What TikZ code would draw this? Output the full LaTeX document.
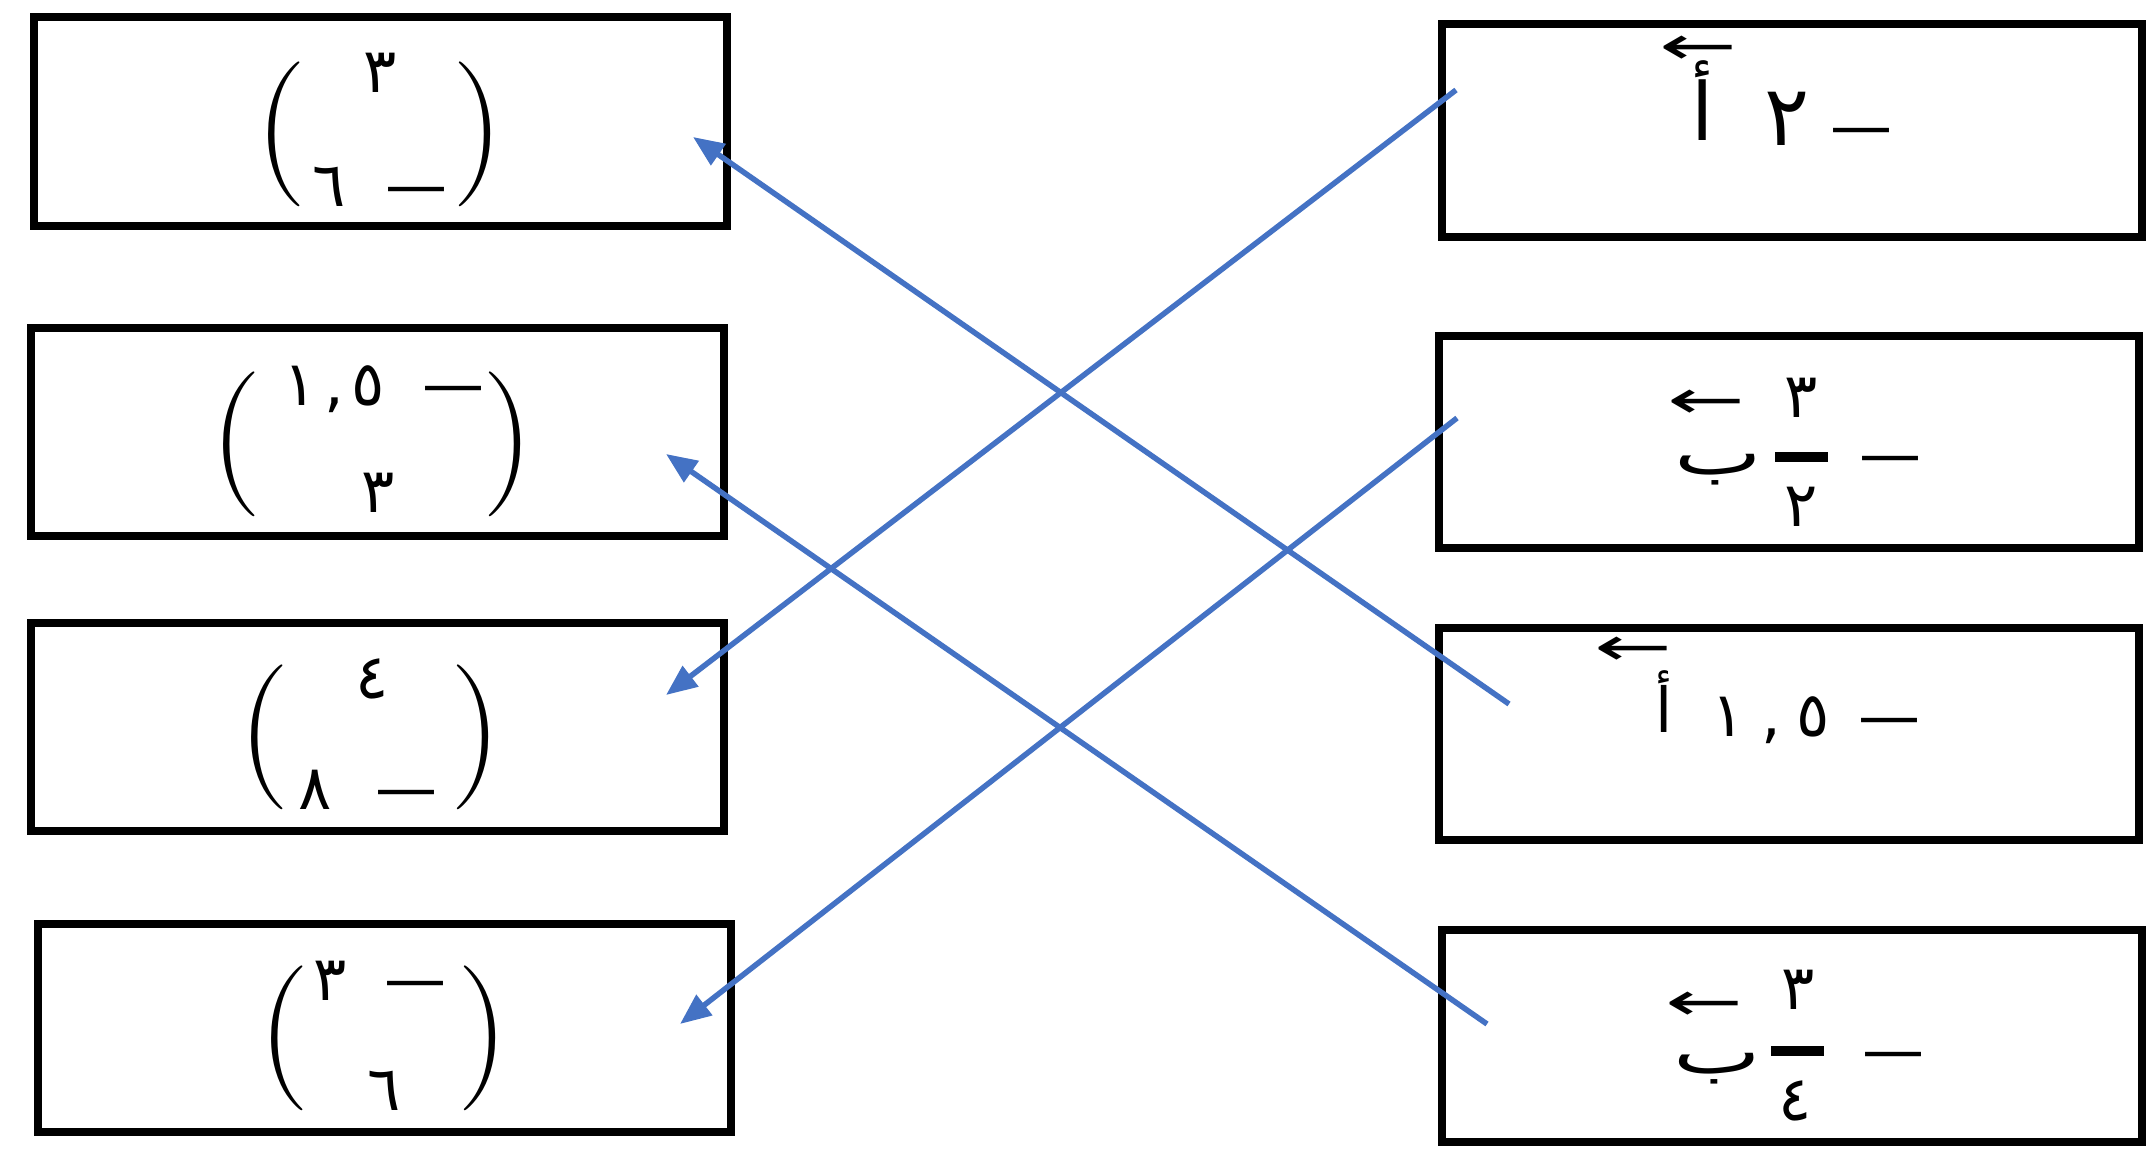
\documentclass[tikz,border=0pt]{standalone}
\usepackage{fontspec}
\usetikzlibrary{arrows.meta}
\TeXXeTstate=1
\newfontfamily\arabicfont[Script=Arabic]{DejaVu Sans}
\newfontfamily\arrowfont{DejaVu Sans}
\definecolor{arrowblue}{HTML}{4472C4}
\newcommand\larr{\scalebox{1.55}[0.9]{←}}
\begin{document}
\begin{tikzpicture}[x=1pt,y=1pt,
  box/.style={draw=black,line width=8pt,inner sep=0pt,outer sep=0pt},
  lbox/.style={box,minimum width=693pt,minimum height=208pt},
  rbox/.style={box,minimum width=700pt,minimum height=212pt},
  ar/.style={inner sep=0pt,anchor=base,font=\arabicfont\fontsize{62}{72}\selectfont},
  arbig/.style={ar,font=\arabicfont\fontsize{84}{96}\selectfont},
  paren/.style={inner sep=0pt,anchor=center,font=\fontsize{145}{145}\selectfont},
  vecarrow/.style={inner sep=0pt,anchor=center,font=\arrowfont\fontsize{60}{60}\selectfont},
  link/.style={draw=arrowblue,line width=5.5pt,-{Triangle[length=31pt,width=25pt]}},
  fbar/.style={fill=black}
]
\fill[white] (0,0) rectangle (2151,-1153);
\useasboundingbox (0,0) rectangle (2151,-1153);

% left boxes
\node[lbox] (l1) at (380.5,-121.5) {};
\node[paren] (l1pl) at (281,-134.5) {(};
\node[paren] (l1pr) at (478.5,-134.5) {)};
\node[ar] (l1a) at (380,-93) {٣};
\node[ar] (l1b) at (380,-206) {٦\hspace{40pt}—};

\node[lbox] (l2) at (377,-432) {};
\node[paren] (l2pl) at (236.5,-444.5) {(};
\node[paren] (l2pr) at (508.5,-444.5) {)};
\node[ar] (l2a) at (384,-405) {\addfontfeature{LetterSpace=12}١,٥\hspace{37pt}—};
\node[ar] (l2b) at (378,-512) {٣};

\node[lbox] (l3) at (377,-727) {};
\node[paren] (l3pl) at (264,-737) {(};
\node[paren] (l3pr) at (476,-737) {)};
\node[ar] (l3a) at (372,-698) {٤};
\node[ar] (l3b) at (368,-809) {٨\hspace{44pt}—};

\node[lbox] (l4) at (384,-1027.5) {};
\node[paren] (l4pl) at (284,-1038.5) {(};
\node[paren] (l4pr) at (483,-1038.5) {)};
\node[ar] (l4a) at (380,-1000) {٣\hspace{37pt}—};
\node[ar] (l4b) at (384,-1110) {٦};

% right boxes
\node[rbox] (r1) at (1792,-130.5) {};
\node[vecarrow] (r1a) at (1698,-50) {\larr};
\node[ar,font=\arabicfont\fontsize{80}{90}\selectfont] (r1v) at (1703,-140) {أ};
\node[arbig] (r1d) at (1787,-146) {٢};
\node[ar] (r1m) at (1861,-147) {—};

\node[rbox] (r2) at (1789,-442) {};
\node[vecarrow] (r2a) at (1706,-404) {\larr};
\node[ar] (r2b) at (1718,-474) {\scalebox{1.5}[1]{ب}};
\node[ar] (r2n) at (1801,-417) {٣};
\fill[fbar] (1775,-452) rectangle (1828,-462);
\node[ar] (r2d) at (1801,-526) {٢};
\node[ar] (r2m) at (1890,-475) {—};

\node[rbox] (r3) at (1789,-734) {};
\node[vecarrow] (r3a) at (1633,-651) {\larr};
\node[ar] (r3v) at (1664,-732) {أ};
\node[ar] (r3n) at (1771,-736) {\addfontfeature{LetterSpace=26}١,٥};
\node[ar] (r3m) at (1889,-737) {—};

\node[rbox] (r4) at (1792,-1035.5) {};
\node[vecarrow] (r4a) at (1704,-1006) {\larr};
\node[ar] (r4b) at (1717,-1073) {\scalebox{1.5}[1]{ب}};
\node[ar] (r4n) at (1798,-1009) {٣};
\fill[fbar] (1771,-1046) rectangle (1824,-1056);
\node[ar] (r4d) at (1795,-1120) {٤};
\node[ar] (r4m) at (1893,-1071) {—};

% connector end points
\coordinate (s1) at (1509,-704);
\coordinate (e1) at (693,-137);
\coordinate (s2) at (1487,-1024);
\coordinate (e2) at (666,-454);
\coordinate (s3) at (1456,-90);
\coordinate (e3) at (666,-695);
\coordinate (s4) at (1457,-418);
\coordinate (e4) at (680,-1024);

\draw[link] (s1) -- (e1);
\draw[link] (s2) -- (e2);
\draw[link] (s3) -- (e3);
\draw[link] (s4) -- (e4);
\end{tikzpicture}
\end{document}
